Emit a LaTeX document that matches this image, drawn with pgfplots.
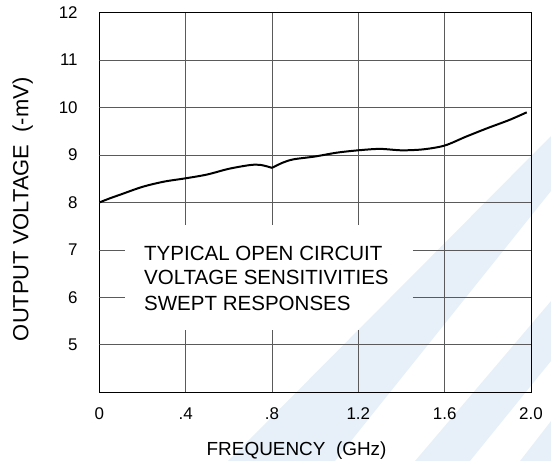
\documentclass[border=0pt]{standalone}
\usepackage{pgfplots}
\pgfplotsset{compat=1.18}
\usepackage{fontspec}
\setmainfont{Liberation Sans}
\definecolor{wm}{RGB}{231,240,248}
\definecolor{gridc}{RGB}{90,90,90}
\begin{document}
\begin{tikzpicture}
\path[use as bounding box] (0bp,0bp) rectangle (551bp,461bp);
% faint watermark in the background
\fill[wm] (228bp,0bp) -- (335bp,0bp) -- (551bp,270bp) -- (551bp,325bp) -- cycle;
\fill[wm] (415bp,0bp) -- (470bp,0bp) -- (551bp,100bp) -- (551bp,160bp) -- cycle;
\fill[wm] (520bp,0bp) -- (551bp,0bp) -- (551bp,40bp) -- cycle;
\begin{axis}[
  at={(99.3bp,68.7bp)}, anchor=south west,
  width=431.7bp, height=379.6bp, scale only axis,
  xmin=0, xmax=2, ymin=4, ymax=12,
  xtick={0,0.4,0.8,1.2,1.6,2.0},
  xticklabels={0,.4,.8,1.2,1.6,2.0},
  ytick={5,6,7,8,9,10,11,12},
  yticklabels={5,6,7,8,9,10,11,12},
  major tick length=0pt,
  axis line style={black, line width=1pt},
  ticklabel style={font=\fontsize{17}{20}\selectfont, inner sep=0pt},
  xticklabel shift=15bp,
  yticklabel shift=21.5bp,
  xlabel={FREQUENCY\ \ (GHz)},
  ylabel={OUTPUT VOLTAGE\ \ (-mV)},
  label style={font=\fontsize{19}{22}\selectfont},
  xlabel style={at={(axis description cs:0.457,0)}, anchor=base, yshift=-62.7bp},
  ylabel style={font=\fontsize{22}{26}\selectfont, at={(axis description cs:0,0.482)}, anchor=base, yshift=71bp},
]
% grid lines (broken around the note)
\draw[gridc, line width=0.9pt] (axis cs:0,5) -- (axis cs:2,5);
\draw[gridc, line width=0.9pt] (axis cs:0,8) -- (axis cs:2,8);
\draw[gridc, line width=0.9pt] (axis cs:0,9) -- (axis cs:2,9);
\draw[gridc, line width=0.9pt] (axis cs:0,10) -- (axis cs:2,10);
\draw[gridc, line width=0.9pt] (axis cs:0,11) -- (axis cs:2,11);
\draw[gridc, line width=0.9pt] (axis cs:0,6) -- (axis cs:0.117,6);
\draw[gridc, line width=0.9pt] (axis cs:1.453,6) -- (axis cs:2,6);
\draw[gridc, line width=0.9pt] (axis cs:0,7) -- (axis cs:0.117,7);
\draw[gridc, line width=0.9pt] (axis cs:1.453,7) -- (axis cs:2,7);
\draw[gridc, line width=0.9pt] (axis cs:1.6,4) -- (axis cs:1.6,12);
\draw[gridc, line width=0.9pt] (axis cs:0.4,4) -- (axis cs:0.4,5.31);
\draw[gridc, line width=0.9pt] (axis cs:0.4,7.53) -- (axis cs:0.4,12);
\draw[gridc, line width=0.9pt] (axis cs:0.8,4) -- (axis cs:0.8,5.31);
\draw[gridc, line width=0.9pt] (axis cs:0.8,7.53) -- (axis cs:0.8,12);
\draw[gridc, line width=0.9pt] (axis cs:1.2,4) -- (axis cs:1.2,5.31);
\draw[gridc, line width=0.9pt] (axis cs:1.2,7.53) -- (axis cs:1.2,12);
% note
\node[anchor=base west, inner sep=0pt, font=\fontsize{20.6}{24}\selectfont] at (axis cs:0.207,6.773) {TYPICAL OPEN CIRCUIT};
\node[anchor=base west, inner sep=0pt, font=\fontsize{20.6}{24}\selectfont] at (axis cs:0.207,6.276) {VOLTAGE SENSITIVITIES};
\node[anchor=base west, inner sep=0pt, font=\fontsize{20.6}{24}\selectfont] at (axis cs:0.207,5.734) {SWEPT RESPONSES};
% curve
\addplot[black, line width=2pt, smooth, tension=0.5] coordinates {
 (0,8.00) (0.05,8.09) (0.1,8.17) (0.2,8.33) (0.3,8.44) (0.4,8.51)
 (0.5,8.59) (0.6,8.71) (0.7,8.79) (0.75,8.79) (0.8,8.73)
};
\addplot[black, line width=2pt, smooth, tension=0.5] coordinates {
 (0.8,8.73) (0.85,8.84) (0.9,8.91) (1.0,8.97) (1.1,9.05) (1.2,9.10)
 (1.3,9.13) (1.4,9.10) (1.5,9.12) (1.6,9.20) (1.7,9.39) (1.8,9.57)
 (1.9,9.74) (1.98,9.90)
};
\end{axis}
\end{tikzpicture}
\end{document}
